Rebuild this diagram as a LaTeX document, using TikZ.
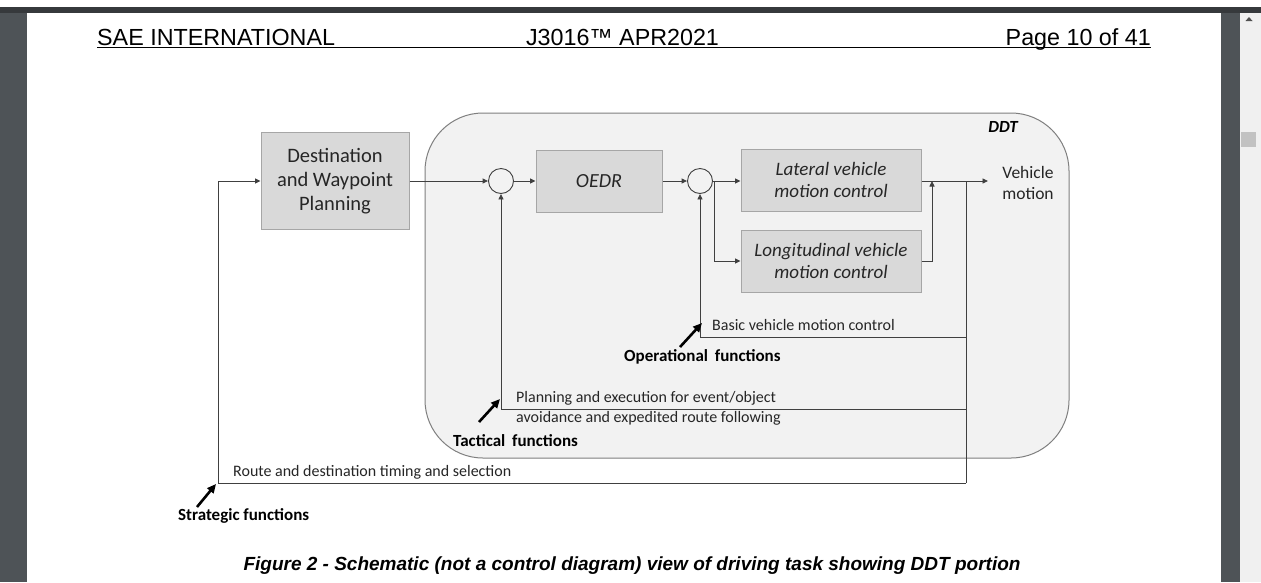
\documentclass[tikz,border=0pt]{standalone}
\usepackage{fontspec}
\setmainfont{Carlito}
\newfontfamily\arialf{Liberation Sans}
\usetikzlibrary{arrows.meta}
\definecolor{linec}{HTML}{404040}
\definecolor{boxedge}{HTML}{A6A6A6}
\definecolor{boxfill}{HTML}{D9D9D9}
\definecolor{ddtfill}{HTML}{F2F2F2}
\definecolor{ddtedge}{HTML}{7F7F7F}
\definecolor{textc}{HTML}{262626}
\definecolor{topbar}{HTML}{36393C}
\definecolor{sidebar}{HTML}{4E5357}
\definecolor{scrollbg}{HTML}{F0F0F0}
\definecolor{thumbc}{HTML}{C2C2C2}
\definecolor{arrowc}{HTML}{505050}
\begin{document}
\begin{tikzpicture}[x=1pt,y=-1pt,
  lnk/.style={draw=linec, line width=0.9pt},
  arr/.style={lnk, -{Triangle[length=5.5pt,width=5pt]}},
  box/.style={draw=boxedge, fill=boxfill, line width=1pt, align=center, inner sep=0pt, text=textc},
  sumnode/.style={circle, draw=linec, minimum size=25pt, inner sep=0pt, line width=0.9pt},
  note/.style={anchor=west, inner sep=0pt, align=left, font=\fontsize{16}{20}\selectfont, text=textc},
  fn/.style={anchor=west, inner sep=0pt, font=\fontsize{17}{20}\selectfont\bfseries, text=black},
  pointer/.style={draw=black, line width=2.6pt, -{Triangle[length=9pt,width=8pt]}},
  hdr/.style={inner sep=0pt, font=\arialf\fontsize{23.3}{27}\selectfont, text=black}
]
\path[use as bounding box] (0,0) rectangle (1261,582);
\fill[white] (0,0) rectangle (1261,582);
% window chrome
\fill[topbar] (0,7) rectangle (1261,13);
\fill[sidebar] (0,13) rectangle (27,582);
\fill[sidebar] (1221,13) rectangle (1240,582);
\fill[scrollbg] (1240,13) rectangle (1261,582);
\fill[thumbc] (1241,132) rectangle (1256,147);
\fill[arrowc] (1245.5,21) -- (1252.5,21) -- (1249,17) -- cycle;

% header
\node[hdr, anchor=base west] (h1) at (97,45) {SAE INTERNATIONAL};
\node[hdr, anchor=base] (h2) at (622.5,45) {J3016™ APR2021};
\node[hdr, anchor=base east] (h3) at (1151,45) {Page 10 of 41};
\draw[black, line width=1.3pt] (97,47.5) -- (1151,47.5);

% DDT region
\node[draw=ddtedge, fill=ddtfill, line width=1pt, rounded corners=58pt,
      minimum width=644pt, minimum height=345pt, inner sep=0pt] (ddt) at (747,285.5) {};
\node[anchor=east, inner sep=0pt, font=\fontsize{17}{20}\selectfont\bfseries\itshape] (ddtl) at (1018,127) {DDT};

% blocks
\node[box, minimum width=148pt, minimum height=97pt, font=\fontsize{20.5}{24}\selectfont] (dest) at (335,181)
  {Destination\\and Waypoint\\Planning};
\node[box, minimum width=126pt, minimum height=62pt, font=\fontsize{20}{24}\selectfont\itshape] (oedr) at (599,181) {OEDR};
\node[box, minimum width=180pt, minimum height=62pt, font=\fontsize{19}{22}\selectfont\itshape] (lat) at (831,180)
  {Lateral vehicle\\motion control};
\node[box, minimum width=180pt, minimum height=62pt, font=\fontsize{19}{22}\selectfont\itshape] (lon) at (831,261)
  {Longitudinal vehicle\\motion control};
\node[sumnode] (s1) at (501,181) {};
\node[sumnode] (s2) at (700,181) {};
\node[inner sep=0pt, align=center, font=\fontsize{17.5}{21}\selectfont, text=textc] (vm) at (1028,182.5) {Vehicle\\motion};

% junctions
\coordinate (br) at (714,181);
\coordinate (jn) at (932,181);
\coordinate (fb) at (966,181);
\coordinate (vmin) at (988,181);
\coordinate (fbB) at (966,337);
\coordinate (fbT) at (966,409);
\coordinate (fbR) at (966,483);
\coordinate (rl) at (218,483);
\coordinate (rt) at (218,181);

% connectors
\draw[arr] (dest.east |- s1) -- (s1.west);
\draw[arr] (s1.east) -- (s1.east -| oedr.west);
\draw[arr] (s2.west -| oedr.east) -- (s2.west);
\draw[arr] (s2.east) -- (s2.east -| lat.west);
\draw[arr] (br) |- (lon.west);
\draw[arr] (jn -| lat.east) -- (vmin);
\draw[arr] (lon.east) -| (jn);
\draw[lnk] (fb) -- (fbR);
\draw[arr] (fbR) -- (rl) -- (rt) -- (rt -| dest.west);
\draw[arr] (fbT) -| (s1.south);
\draw[arr] (fbB) -| (s2.south);

% labels
\node[note] (tb) at (712,325) {Basic vehicle motion control};
\node[note] (tp) at (516,408.5) {Planning and execution for event/object\\avoidance and expedited route following};
\node[note] (tr) at (233,472) {Route and destination timing and selection};
\node[fn] (fo) at (624,357) {Operational\hspace{3pt} functions};
\node[fn] (ft) at (453,441) {Tactical\hspace{3pt} functions};
\node[fn] (fs) at (178,516) {Strategic functions};

% pointer arrows
\coordinate (po1) at (680,347); \coordinate (po2) at (702,323);
\coordinate (pt1) at (479,422); \coordinate (pt2) at (500,399);
\coordinate (ps1) at (197,507); \coordinate (ps2) at (216,484);
\draw[pointer] (po1) -- (po2);
\draw[pointer] (pt1) -- (pt2);
\draw[pointer] (ps1) -- (ps2);

% caption
\node[inner sep=0pt, font=\arialf\bfseries\itshape\fontsize{19}{22}\selectfont] (cap) at (632,566)
  {Figure 2 - Schematic (not a control diagram) view of driving task showing DDT portion};
\end{tikzpicture}
\end{document}
